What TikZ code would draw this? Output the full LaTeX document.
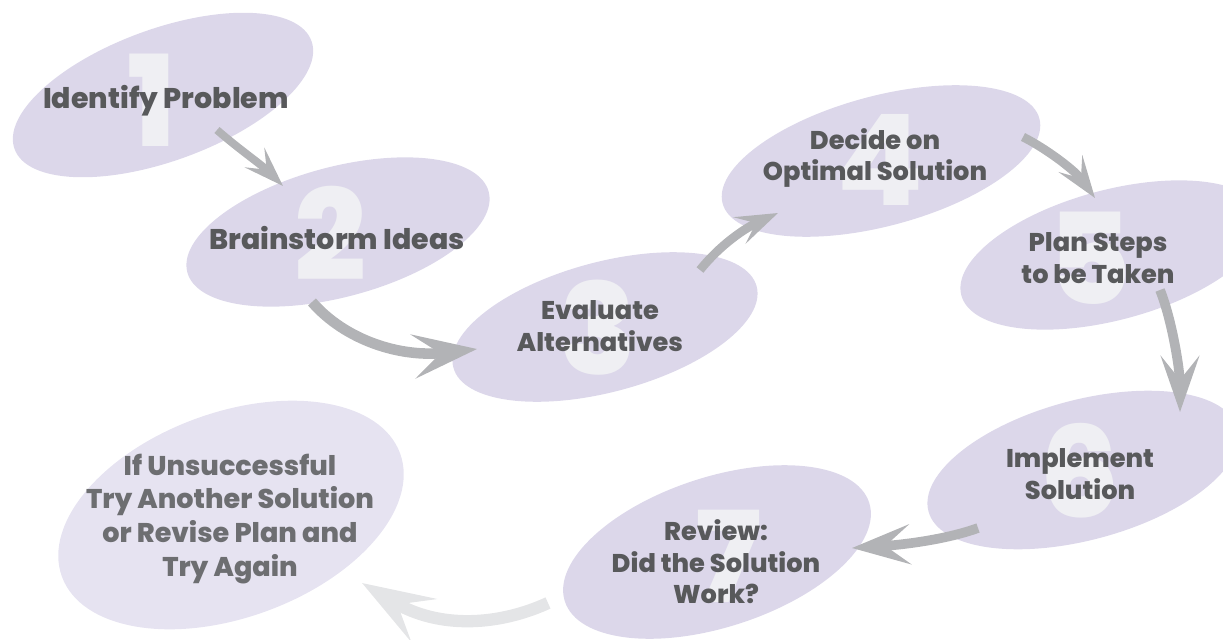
\documentclass[tikz,border=0pt]{standalone}
\usepackage{fontspec}
\setmainfont{Poppins}[BoldFont={Poppins ExtraBold}]
\usetikzlibrary{shapes.geometric,arrows.meta}
\definecolor{blob}{HTML}{DCD7EA}
\definecolor{paleblob}{HTML}{E6E3F1}
\definecolor{numgray}{HTML}{EFEFF3}
\definecolor{textgray}{HTML}{58595B}
\definecolor{paletext}{HTML}{6D6E71}
\definecolor{arrowgray}{HTML}{B2B3B6}
\definecolor{palearrow}{HTML}{E4E5E7}

\begin{document}
\begin{tikzpicture}[x=0.02cm, y=-0.02cm,
    step node/.style={ellipse,fill=blob,inner sep=0pt},
    step number/.style={text=numgray,inner sep=0pt,font=\bfseries\fontsize{72}{72}\selectfont},
    step text/.style={align=center,text=textgray,font=\bfseries\fontsize{14.6}{17.9}\selectfont},
    big text/.style={step text,font=\bfseries\fontsize{16.2}{18}\selectfont},
    flow/.style 2 args={draw=arrowgray,line width=#1,
        -{Stealth[length=0.8cm,width=0.55cm,inset=0.34cm,scale=#2]}}]

    \clip (0,0) rectangle (1223,639);

    % ellipses
    \node[step node, minimum width=6.32cm, minimum height=2.64cm, rotate=20] (1) at (163,95) {};
    \node[step node, minimum width=6.24cm, minimum height=2.6cm, rotate=15] (2) at (338,232) {};
    \node[step node, minimum width=6.28cm, minimum height=2.6cm, rotate=15] (3) at (605,327) {};
    \node[step node, minimum width=6.56cm, minimum height=2.6cm, rotate=15] (4) at (881,161) {};
    \node[step node, minimum width=6.24cm, minimum height=2.6cm, rotate=15] (5) at (1112,255) {};
    \node[step node, minimum width=6.4cm, minimum height=2.8cm, rotate=15] (6) at (1083,470) {};
    \node[step node, minimum width=6.4cm, minimum height=3cm, rotate=18] (7) at (717,552) {};
    \node[step node, fill=paleblob, minimum width=7.2cm, minimum height=4.1cm, rotate=20] (8) at (231,515) {};

    % numbers
    \node[step number] (n1) at (152,100) {1};
    \node[step number] (n2) at (330,233) {2};
    \node[step number] (n3) at (598,328) {3};
    \node[step number] (n4) at (880,160) {4};
    \node[step number] (n5) at (1090,258) {5};
    \node[step number] (n6) at (1080,471) {6};
    \node[step number] (n7) at (729,556) {7};

    % labels
    \node[big text] (l1) at (166,101) {Identify Problem};
    \node[big text] (l2) at (337,238) {Brainstorm Ideas};
    \node[step text] (l3) at (600,326) {Evaluate\\Alternatives};
    \node[step text] (l4) at (875,158) {Decide on\\Optimal Solution};
    \node[step text] (l5) at (1098,258) {Plan Steps\\to be Taken};
    \node[step text] (l6) at (1080,474) {Implement\\Solution};
    \node[step text] (l7) at (716,562) {Review:\\Did the Solution\\Work?};
    \node[step text, text=paletext, font=\bfseries\fontsize{15.4}{19.3}\selectfont] (l8) at (230,519)
        {If Unsuccessful\\Try Another Solution\\or Revise Plan and\\Try Again};

    % arrows
    \coordinate (s1) at (217,130); \coordinate (f1) at (283,186);
    \coordinate (s2) at (312,302); \coordinate (f2) at (477,349);
    \coordinate (s3) at (700,270); \coordinate (f3) at (778,213);
    \coordinate (s4) at (1023,137); \coordinate (f4) at (1095,198);
    \coordinate (s5) at (1160,290); \coordinate (f5) at (1180,412);
    \coordinate (s6) at (978,528); \coordinate (f6) at (852,548);
    \coordinate (s7) at (548,603); \coordinate (f7) at (362,583);

    \draw[flow={4.5pt}{1}] (s1) .. controls (240,150) and (262,165) .. (f1);
    \draw[flow={6pt}{1.6}] (s2) .. controls (345,340) and (400,358) .. (f2);
    \draw[flow={5pt}{1.05}] (s3) .. controls (720,245) and (745,228) .. (f3);
    \draw[flow={5pt}{1.05}] (s4) .. controls (1045,148) and (1075,170) .. (f4);
    \draw[flow={5.5pt}{1.4}] (s5) .. controls (1172,320) and (1180,370) .. (f5);
    \draw[flow={5.5pt}{1.45}] (s6) .. controls (945,540) and (900,545) .. (f6);
    \draw[flow={7pt}{1.8}, draw=palearrow] (s7) .. controls (500,625) and (440,630) .. (f7);
\end{tikzpicture}
\end{document}
